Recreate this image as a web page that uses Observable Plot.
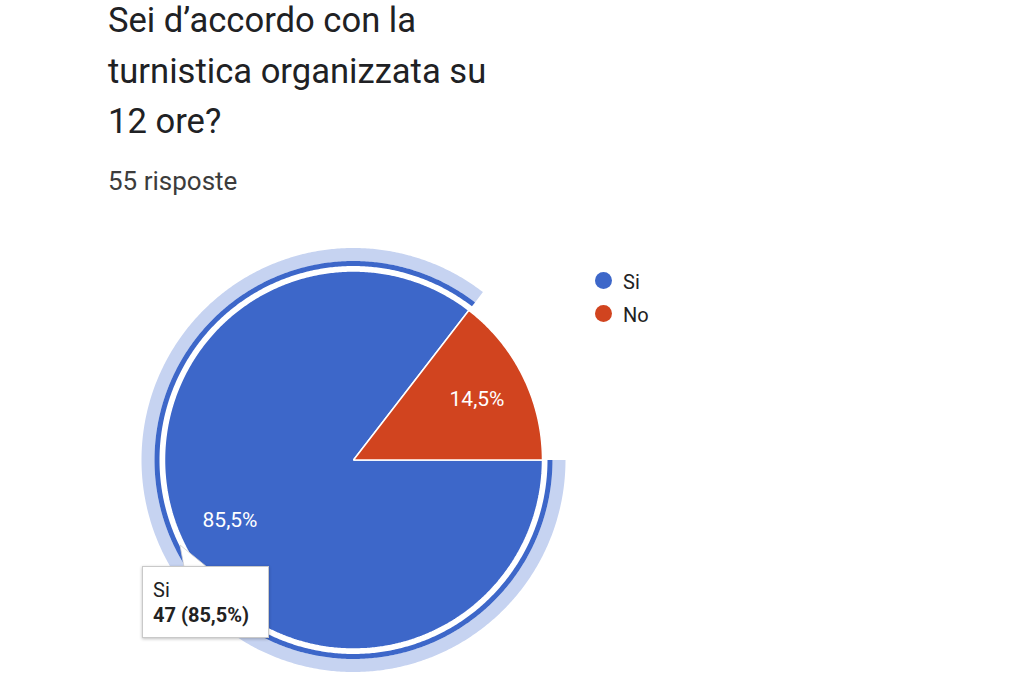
<!DOCTYPE html>
<html>
<head>
<meta charset="utf-8">
<script src="https://cdn.jsdelivr.net/npm/d3@7"></script>
<script src="https://cdn.jsdelivr.net/npm/@observablehq/plot@0.6"></script>
<style>
  html, body { margin: 0; padding: 0; background: #ffffff; }
  body { font-family: Roboto, "Noto Sans", Arial, sans-serif; }
  #page { position: relative; width: 1024px; height: 700px; overflow: hidden; }
  #head { position: relative; height: 215px; }
  #title { position: absolute; left: 108px; top: -5px; font-size: 34.6px; line-height: 50.5px; color: #202124; white-space: nowrap; }
  #subtitle { position: absolute; left: 108px; top: 168px; font-size: 26px; line-height: 26px; color: #3c3c3c; white-space: nowrap; }
  #chart { position: absolute; left: 0; top: 215px; }
  .leg { position: absolute; left: 595px; height: 20px; font-size: 20px; line-height: 20px; color: #222; white-space: nowrap; }
  .leg .sw { position: absolute; left: 0; top: 0; width: 17px; height: 17px; border-radius: 50%; }
  .leg .lt { position: absolute; left: 28px; top: 0; }
  #tip { position: absolute; left: 142px; top: 566px; width: 127px; height: 72px; box-sizing: border-box; background: #fff; border: 1px solid #c9c9c9; box-shadow: 0 1px 3px rgba(0,0,0,0.25); color: #222; }
  #tip .l1 { position: absolute; left: 10px; top: 13px; font-size: 20px; line-height: 20px; }
  #tip .l2 { position: absolute; left: 10px; top: 38px; font-size: 20px; line-height: 20px; font-weight: bold; white-space: nowrap; }
  #tail { position: absolute; left: 0; top: 0; }
</style>
</head>
<body>
<div id="page">
  <div id="head">
    <div id="title">Sei d’accordo con la<br>turnistica organizzata su<br>12 ore?</div>
    <div id="subtitle"></div>
  </div>
</div>
<script>
// ---- data ----
const labels = ["Si", "No"];
const counts = [47, 8];
const subtitleText = "risposte";
const hovered = "Si";

// ---- styles ----
const colors = ["#3d67c9", "#d1441f"];
const ringLight = "#c6d3f1";

const page = document.getElementById("page");
const total = d3.sum(counts);
document.getElementById("subtitle").textContent = `${total} ${subtitleText}`;

const itFormat = d3.formatLocale({decimal: ",", thousands: ".", grouping: [3], currency: ["", " €"]}).format(".1%");

// geometry (pixels) for layout
const W = 1024, H = 485, cx = 353, cy = 244.5, R = 189;
const deg = Math.PI / 180;
const startAngle = 90; // degrees clockwise from north

let acc = startAngle;
const slices = labels.map((key, i) => {
  const a0 = acc, a1 = acc + counts[i] / total * 360;
  acc = a1;
  return {key, value: counts[i], a0, a1, pct: counts[i] / total};
});

function sector(key, a0, a1, r0, r1) {
  const n = Math.max(2, Math.ceil((a1 - a0) / 0.5));
  const angles = d3.range(n + 1).map(j => a0 + (a1 - a0) * j / n);
  const pts = angles.map(a => ({key, x: r1 * Math.sin(a * deg), y: r1 * Math.cos(a * deg)}));
  if (r0 === 0) pts.push({key, x: 0, y: 0});
  else angles.slice().reverse().forEach(a => pts.push({key, x: r0 * Math.sin(a * deg), y: r0 * Math.cos(a * deg)}));
  pts.push({...pts[0]});
  return pts;
}

const hs = slices.find(s => s.key === hovered);
const lightRing = sector(hs.key, hs.a0, hs.a1, 199 / R, 212 / R);
const darkRing = sector(hs.key, hs.a0, hs.a1, 194 / R, 199 / R);
const pieData = slices.flatMap(s => sector(s.key, s.a0, s.a1, 0, 1));
const labelData = slices.map(s => {
  const m = (s.a0 + s.a1) / 2, r = 0.728;
  return {key: s.key, x: r * Math.sin(m * deg), y: r * Math.cos(m * deg), text: itFormat(s.pct)};
});

const chart = Plot.plot({
  width: W, height: H, margin: 0,
  style: {fontFamily: "Roboto, 'Noto Sans', sans-serif", background: "transparent", overflow: "visible"},
  x: {domain: [-cx / R, (W - cx) / R], axis: null},
  y: {domain: [-(H - cy) / R, cy / R], axis: null},
  color: {domain: labels, range: colors},
  marks: [
    Plot.line(lightRing, {x: "x", y: "y", z: "key", fill: ringLight, stroke: "none"}),
    Plot.line(darkRing, {x: "x", y: "y", z: "key", fill: "key", stroke: "none"}),
    Plot.line(pieData, {x: "x", y: "y", z: "key", fill: "key", stroke: "white", strokeWidth: 1.5, strokeLinejoin: "miter"}),
    Plot.text(labelData, {x: "x", y: "y", text: "text", fill: "white", fontSize: 21})
  ]
});
chart.id = "chart";
page.appendChild(chart);

// legend
labels.forEach((k, i) => {
  const d = document.createElement("div");
  d.className = "leg";
  d.style.top = (272 + i * 33) + "px";
  d.innerHTML = `<span class="sw" style="background:${colors[i]}"></span><span class="lt"></span>`;
  d.querySelector(".lt").textContent = k;
  page.appendChild(d);
});

// hover tooltip
const ns = "http://www.w3.org/2000/svg";
const tail = document.createElementNS(ns, "svg");
tail.setAttribute("id", "tail");
tail.setAttribute("width", 1024);
tail.setAttribute("height", 700);
const poly = document.createElementNS(ns, "polygon");
poly.setAttribute("points", "180,545 184,567 207,567");
poly.setAttribute("fill", "#ffffff");
poly.setAttribute("stroke", "#d0d0d0");
poly.setAttribute("stroke-width", "0.8");
tail.appendChild(poly);
page.appendChild(tail);

const tip = document.createElement("div");
tip.id = "tip";
tip.innerHTML = `<span class="l1"></span><span class="l2"></span>`;
tip.querySelector(".l1").textContent = hs.key;
tip.querySelector(".l2").textContent = `${hs.value} (${itFormat(hs.pct)})`;
page.appendChild(tip);
</script>
</body>
</html>
